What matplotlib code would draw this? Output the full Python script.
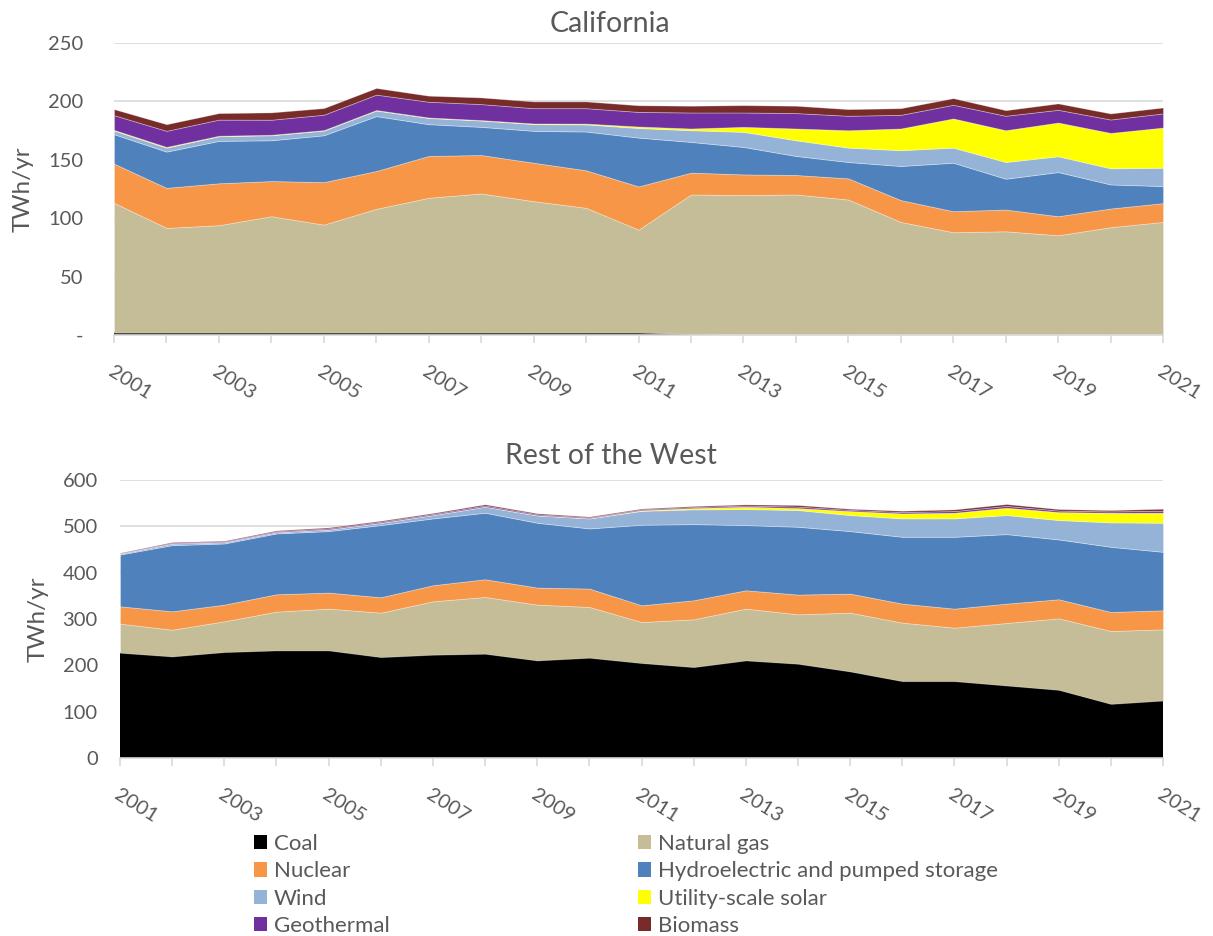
import matplotlib
matplotlib.use("Agg")
import matplotlib.pyplot as plt
from matplotlib.patches import Patch

years = list(range(2001, 2022))

labels = ["Coal", "Natural gas", "Nuclear", "Hydroelectric and pumped storage",
          "Wind", "Utility-scale solar", "Geothermal", "Biomass"]
colors = ["#000000", "#c4bd97", "#f79646", "#4f81bd",
          "#95b3d7", "#ffff00", "#7030a0", "#772c2a"]

# California (TWh/yr)
ca_coal = [2.0, 2.0, 2.0, 2.0, 2.0, 2.0, 2.0, 2.0, 2.0, 2.0, 2.0,
           0.8, 0.3, 0.3, 0.3, 0.3, 0.3, 0.3, 0.3, 0.3, 0.3]
ca_gas = [111.2, 89.7, 92.0, 99.7, 92.5, 106.0, 115.5, 119.2, 112.6, 106.9, 88.2,
          119.5, 119.5, 120.0, 115.7, 96.5, 87.7, 88.5, 85.1, 92.0, 96.5]
ca_nuclear = [33.5, 34.3, 35.9, 30.1, 36.4, 32.4, 35.8, 32.9, 32.9, 32.1, 37.0,
              18.7, 17.7, 16.7, 18.1, 18.7, 18.0, 18.6, 16.3, 16.0, 16.1]
ca_hydro = [25.2, 31.0, 36.3, 34.9, 40.1, 47.0, 27.2, 24.1, 27.3, 33.2, 41.8,
            26.3, 23.5, 16.3, 14.0, 29.2, 41.5, 26.4, 37.8, 20.6, 14.6]
ca_wind = [3.1, 3.4, 4.0, 4.3, 4.0, 4.8, 5.3, 5.4, 5.8, 6.1, 8.2,
           10.0, 12.9, 13.4, 12.3, 13.5, 12.9, 14.3, 13.5, 13.8, 15.7]
ca_solar = [0.6, 0.6, 0.4, 0.4, 0.4, 0.4, 0.4, 0.4, 0.5, 0.7, 1.3,
            1.5, 4.3, 10.1, 14.9, 18.6, 25.0, 27.2, 28.9, 30.3, 34.4]
ca_geo = [12.6, 13.8, 13.8, 12.9, 13.2, 13.2, 13.5, 13.7, 13.1, 13.2, 12.5,
          13.7, 12.3, 13.2, 12.4, 11.7, 11.7, 12.4, 10.9, 11.5, 12.1]
ca_bio = [5.2, 5.7, 5.6, 6.3, 5.7, 5.7, 5.2, 5.7, 5.8, 5.8, 5.7,
          5.8, 6.3, 6.3, 5.7, 5.7, 5.7, 4.8, 5.5, 5.2, 5.1]

# Rest of the West (TWh/yr)
rw_coal = [227.2, 219.2, 228.6, 232.2, 232.2, 217.8, 222.9, 225.0, 210.6, 216.4, 205.0,
           196.2, 210.6, 203.4, 186.8, 165.9, 165.9, 156.5, 147.1, 116.8, 124.0]
rw_gas = [62.7, 57.7, 66.4, 83.7, 90.2, 95.9, 115.3, 122.6, 120.4, 109.6, 88.5,
          103.1, 111.8, 106.7, 126.9, 126.2, 115.4, 134.9, 154.4, 157.3, 153.7]
rw_nuclear = [37.5, 39.7, 36.0, 37.5, 34.6, 33.2, 34.7, 38.2, 36.8, 39.7, 36.1,
              41.1, 39.6, 42.6, 41.1, 41.1, 41.1, 41.8, 41.1, 41.1, 41.1]
rw_hydro = [111.8, 142.8, 132.0, 131.3, 132.7, 155.8, 144.2, 143.6, 139.9, 129.8, 173.8,
            164.4, 140.7, 146.4, 134.9, 144.2, 155.0, 150.0, 129.1, 140.6, 126.2]
rw_wind = [2.1, 3.6, 2.9, 2.8, 3.6, 5.0, 7.2, 13.0, 15.9, 21.6, 30.0,
           31.8, 34.6, 36.0, 34.6, 39.7, 39.7, 41.1, 41.8, 52.7, 62.7]
rw_solar = [0.1, 0.1, 0.1, 0.1, 0.1, 0.1, 0.2, 0.2, 0.3, 0.4, 1.3,
            2.9, 5.1, 4.4, 8.7, 10.8, 12.3, 15.9, 17.3, 20.9, 21.7]
rw_geo = [0.8, 1.5, 1.5, 1.8, 2.2, 2.2, 2.2, 2.5, 2.2, 1.8, 1.9,
          2.2, 2.5, 3.2, 2.5, 2.9, 3.6, 3.9, 3.2, 2.9, 4.3]
rw_bio = [0.8, 1.4, 1.4, 1.8, 2.1, 2.1, 2.1, 2.5, 2.1, 1.8, 1.8,
          2.1, 2.5, 3.3, 2.5, 2.9, 3.6, 4.0, 3.3, 2.8, 4.3]

ca_series = [ca_coal, ca_gas, ca_nuclear, ca_hydro, ca_wind, ca_solar, ca_geo, ca_bio]
rw_series = [rw_coal, rw_gas, rw_nuclear, rw_hydro, rw_wind, rw_solar, rw_geo, rw_bio]

ca_yticks = [0, 50, 100, 150, 200, 250]
ca_yticklabels = ["-", "50", "100", "150", "200", "250"]
rw_yticks = [0, 100, 200, 300, 400, 500, 600]
rw_yticklabels = ["0", "100", "200", "300", "400", "500", "600"]
xtick_labels = [str(y) if (y % 2 == 1) else "" for y in years]

plt.rcParams["font.family"] = ["Lato", "DejaVu Sans"]
TXT = "#595959"
GRID = "#d9d9d9"

W, H = 1213, 936
fig = plt.figure(figsize=(W / 100, H / 100), dpi=100)
ax1 = fig.add_axes([114 / W, 1 - 335 / H, (1163 - 114) / W, (335 - 43) / H])
ax2 = fig.add_axes([120 / W, 1 - 758 / H, (1163 - 120) / W, (758 - 480) / H])


def style(ax, series, yticks, yticklabels, ypad):
    polys = ax.stackplot(years, *series, colors=colors, labels=labels,
                         linewidth=0.6, edgecolor=(1, 1, 1, 0.35), zorder=2)
    polys[0].set_edgecolor("none")
    ax.set_xlim(2001, 2021)
    ax.set_ylim(yticks[0], yticks[-1])
    ax.set_yticks(yticks)
    ax.set_yticklabels(yticklabels)
    ax.set_xticks(years)
    ax.set_xticklabels(xtick_labels, rotation=-32, ha="left", va="top",
                       rotation_mode="anchor")
    ax.grid(axis="y", color=GRID, linewidth=1.2, zorder=0)
    ax.set_axisbelow(True)
    for s in ["top", "right", "left"]:
        ax.spines[s].set_visible(False)
    ax.spines["bottom"].set_color(GRID)
    ax.spines["bottom"].set_linewidth(1.2)
    ax.tick_params(axis="y", length=0, pad=ypad, labelsize=14.5, labelcolor=TXT)
    ax.tick_params(axis="x", length=6, width=1.2, color=GRID, pad=14,
                   labelsize=14.5, labelcolor=TXT)
    ax.set_ylabel("TWh/yr", fontsize=17.5, color=TXT)


style(ax1, ca_series, ca_yticks, ca_yticklabels, 22)
style(ax2, rw_series, rw_yticks, rw_yticklabels, 16)
ax1.yaxis.set_label_coords(-0.077, 0.5)
ax2.yaxis.set_label_coords(-0.068, 0.5)

fig.text(610 / W, 1 - 32 / H, "California", fontsize=20.5, color=TXT,
         ha="center", va="baseline")
fig.text(611 / W, 1 - 464 / H, "Rest of the West", fontsize=20.5, color=TXT,
         ha="center", va="baseline")

handles = [Patch(facecolor=c, edgecolor="none") for c in colors]
leg_kw = dict(loc="upper left", frameon=False, fontsize=16, labelcolor=TXT,
              handlelength=0.6, handleheight=0.6, handletextpad=0.28,
              labelspacing=0.33, borderpad=0, borderaxespad=0)
fig.legend(handles[0::2], labels[0::2],
           bbox_to_anchor=(254 / W, 1 - 834 / H), **leg_kw)
fig.legend(handles[1::2], labels[1::2],
           bbox_to_anchor=(638 / W, 1 - 834 / H), **leg_kw)

fig.savefig("out.png", dpi=100)
